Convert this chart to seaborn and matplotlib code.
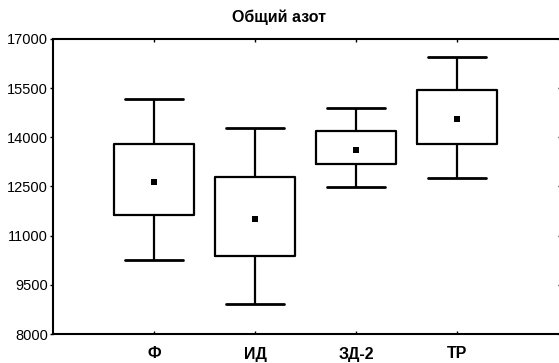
import numpy as np
import pandas as pd
import matplotlib
matplotlib.use("Agg")
import matplotlib.pyplot as plt
import seaborn as sns

# Values
categories = ["Ф", "ИД", "ЗД-2", "ТР"]
means = [12650, 11500, 13610, 14560]
box_low = [11640, 10370, 13180, 13790]
box_high = [13810, 12790, 14200, 15440]
whisker_low = [10250, 8910, 12480, 12770]
whisker_high = [15170, 14280, 14890, 16440]
yticks = [8000, 9500, 11000, 12500, 14000, 15500, 17000]
title = "Общий азот"

sns.set_style("white")
plt.rcParams["font.family"] = ["Liberation Sans", "DejaVu Sans"]
plt.rcParams["text.color"] = "black"
plt.rcParams["xtick.color"] = "black"
plt.rcParams["ytick.color"] = "black"

# five-number rows so that quartiles = box edges, min/max = whiskers, median = mean
rows = []
for c, wl, bl, m, bh, wh in zip(categories, whisker_low, box_low, means, box_high, whisker_high):
    for v in (wl, bl, m, bh, wh):
        rows.append({"group": c, "value": v})
df = pd.DataFrame(rows)
mdf = pd.DataFrame({"group": categories, "mean": means})

fig = plt.figure(figsize=(5.59, 3.63), dpi=100)
ax = fig.add_axes([53 / 559, 1 - 334 / 363, 505 / 559, 295 / 363])

lw = 1.6
sns.boxplot(data=df, x="group", y="value", order=categories, ax=ax,
            whis=(0, 100), width=0.8, fill=False, color="black", linewidth=lw,
            capwidths=0.57,
            medianprops={"visible": False},
            boxprops={"linewidth": lw, "color": "black"},
            whiskerprops={"linewidth": lw, "color": "black"},
            capprops={"linewidth": lw + 0.4, "color": "black"},
            showfliers=False)
sns.scatterplot(data=mdf, x="group", y="mean", ax=ax, marker="s", s=14,
                color="black", edgecolor="black", linewidth=0, zorder=5)

ax.set_xlim(-1, 4)
ax.set_ylim(8000, 17000)
ax.set_yticks(yticks)
ax.set_yticklabels([str(t) for t in yticks], fontsize=10.5, color="black")
ax.set_xticks(range(len(categories)))
ax.set_xticklabels(categories, fontsize=11.5, fontweight="bold", color="black")
ax.set_xlabel("")
ax.set_ylabel("")

for s in ["left", "bottom", "top"]:
    ax.spines[s].set_visible(True)
    ax.spines[s].set_linewidth(1.5)
    ax.spines[s].set_color("black")
ax.spines["right"].set_visible(False)

ax.tick_params(axis="y", which="both", left=True, right=True, length=2.5,
               width=1, pad=1, direction="out", colors="black")
ax.tick_params(axis="x", which="both", bottom=True, top=True, length=2,
               width=1, pad=9, direction="in", colors="black")

fig.text(0.5, 1 - 17 / 363, title, ha="center", va="center",
         fontsize=11.5, fontweight="bold", color="black")

fig.savefig("out.png", dpi=100, facecolor="white")
